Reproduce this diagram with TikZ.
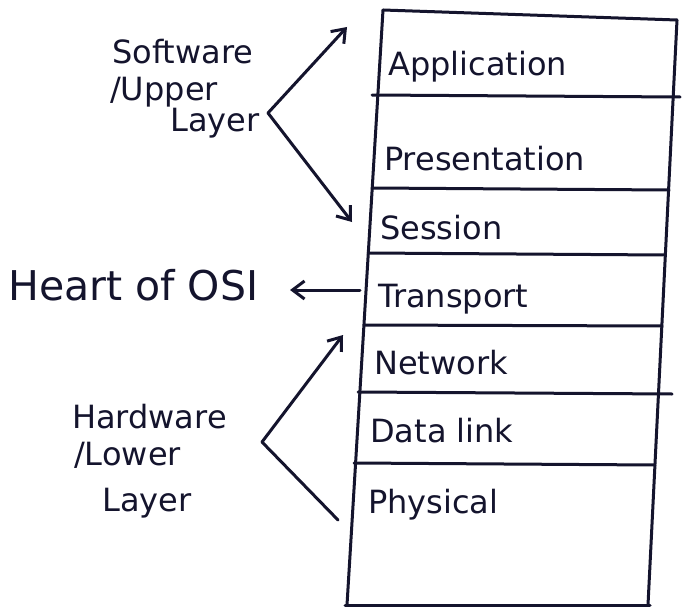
\documentclass[tikz,border=0pt]{standalone}
\usepackage{fontspec}
\setmainfont{DejaVu Sans}
\usetikzlibrary{arrows.meta}
\definecolor{ink}{RGB}{20,20,45}
\tikzset{
  hand/.style={draw=ink, line width=3pt, line cap=round, line join=round},
  arr/.style={hand, -{Straight Barb[length=12pt,width=18pt,line width=3pt]}},
  layer/.style={anchor=base west, inner sep=0pt, text=ink, font=\fontsize{32}{36}\selectfont},
  side/.style={anchor=base west, inner sep=0pt, text=ink, font=\fontsize{32}{36}\selectfont},
}
\begin{document}
\begin{tikzpicture}[x=1pt,y=-1pt]
\useasboundingbox[fill=white] (0,0) rectangle (683,610);
% box outline
\draw[hand] (383,10) -- (677,20);
\draw[hand] (383,10) -- (347,605);
\draw[hand] (677,20) -- (648,605);
\draw[hand] (345,605) -- (650,605);
% separators
\draw[hand] (372,95) -- (680,97);
\draw[hand] (372,188) -- (669,190);
\draw[hand] (368,253) -- (665,255);
\draw[hand] (364,325) -- (662,326);
\draw[hand] (358,392) -- (672,394);
\draw[hand] (354,463) -- (655,465);
% layers
\node[layer] (app)  at (388,76)  {Application};
\node[layer] (pres) at (384,170) {Presentation};
\node[layer] (sess) at (380,239) {Session};
\node[layer] (trans) at (378,307) {Transport};
\node[layer] (net)  at (374,374) {Network};
\node[layer] (dl)   at (370,442) {Data link};
\node[layer] (phy)  at (368,513) {Physical};
% software label
\node[side] (sw) at (112,64) {Software};
\node[side] (up) at (110,100) {/Upper};
\node[side] (sl) at (170,131) {Layer};
\coordinate (sv) at (268,113);
\coordinate (sa) at (347,27);
\coordinate (ss) at (352,222);
\draw[arr] (sv) -- (sa);
\draw[arr] (sv) -- (ss);
% heart
\node[side, font=\fontsize{41}{46}\selectfont] (heart) at (8,300) {Heart of OSI};
\coordinate (ht) at (360,290);
\coordinate (hh) at (290,290);
\draw[arr] (ht) -- (hh);
% hardware label
\node[side] (hw) at (72,428) {Hardware};
\node[side] (lw) at (74,465) {/Lower};
\node[side] (hl) at (102,511) {Layer};
\coordinate (hv) at (262,442);
\coordinate (hn) at (343,335);
\coordinate (hp) at (338,520);
\draw[arr] (hv) -- (hn);
\draw[hand] (hv) -- (hp);
\end{tikzpicture}
\end{document}
